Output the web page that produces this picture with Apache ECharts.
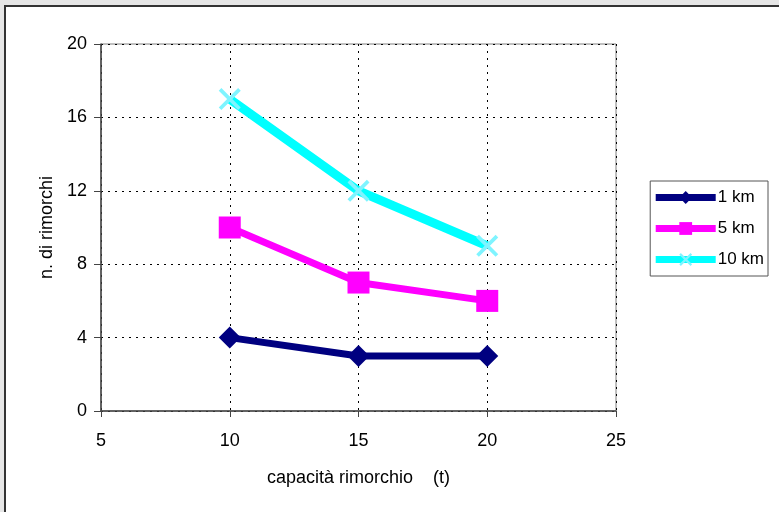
<!DOCTYPE html>
<html>
<head>
<meta charset="utf-8">
<script src="https://cdn.jsdelivr.net/npm/echarts@6/dist/echarts.min.js"></script>
<style>
  html, body { margin: 0; padding: 0; background: #e6e6e6; overflow: hidden; }
  #frame { position: absolute; left: 4px; top: 5px; width: 800px; height: 520px;
           border-left: 2px solid #333; border-top: 2px solid #333; background: #fff; }
  #chart { position: absolute; left: 0; top: 0; width: 779px; height: 512px; }
</style>
</head>
<body>
<div id="frame"></div>
<div id="chart"></div>
<script>
// capacità rimorchio (t)
var capacita = [10, 15, 20];
// n. di rimorchi per distanza
var km1 = [4, 3, 3];
var km5 = [10, 7, 6];
var km10 = [17, 12, 9];
var seriesNames = ['1 km', '5 km', '10 km'];

function pts(ys) {
  return capacita.map(function (x, i) { return [x, ys[i]]; });
}

var xMark = 'path://M0,1.2L1.2,0L10,8.8L8.8,10Z M8.8,0L10,1.2L1.2,10L0,8.8Z';

var myChart = echarts.init(document.getElementById('chart'));
var font = 'Liberation Sans, Arial, sans-serif';

var option = {
  backgroundColor: 'transparent',
  animation: false,
  textStyle: { fontFamily: font },
  grid: {
    left: 101, right: 163, top: 44, bottom: 101,
    show: true, borderColor: '#808080', borderWidth: 1
  },
  legend: {
    orient: 'vertical',
    right: 11, top: 181,
    padding: [8, 4, 8, 2],
    itemGap: 14,
    itemWidth: 60, itemHeight: 16,
    borderColor: '#555', borderWidth: 1,
    lineStyle: { width: 7 },
    textStyle: { fontSize: 17, color: '#000', padding: [0, 0, 0, -3], fontFamily: font },
    data: seriesNames
  },
  xAxis: {
    type: 'value', min: 5, max: 25, interval: 5,
    name: 'capacità rimorchio    (t)',
    nameLocation: 'middle', nameGap: 58,
    nameTextStyle: { fontSize: 18, color: '#000', fontFamily: font },
    axisLine: { show: true, onZero: false, lineStyle: { color: '#444', width: 1.5 } },
    axisTick: { show: true, length: 6, lineStyle: { color: '#444' } },
    axisLabel: { fontSize: 18, color: '#000', margin: 21, fontFamily: font },
    splitLine: { show: true, lineStyle: { color: '#000', type: [2, 5], width: 1 } }
  },
  yAxis: {
    type: 'value', min: 0, max: 20, interval: 4,
    name: 'n. di rimorchi',
    nameLocation: 'middle', nameGap: 45,
    nameTextStyle: { fontSize: 18, color: '#000', fontFamily: font },
    axisLine: { show: true, lineStyle: { color: '#444', width: 1.5 } },
    axisTick: { show: true, length: 7, lineStyle: { color: '#444' } },
    axisLabel: { fontSize: 18, color: '#000', margin: 14, fontFamily: font },
    splitLine: { show: true, lineStyle: { color: '#000', type: [2, 5], width: 1 } }
  },
  series: [
    {
      name: '1 km', type: 'line', data: pts(km1),
      symbol: 'diamond', symbolSize: 22,
      lineStyle: { color: '#000080', width: 7 },
      itemStyle: { color: '#000080' }
    },
    {
      name: '5 km', type: 'line', data: pts(km5),
      symbol: 'rect', symbolSize: 22,
      lineStyle: { color: '#ff00ff', width: 7 },
      itemStyle: { color: '#ff00ff' }
    },
    {
      name: '10 km', type: 'line', data: pts(km10),
      symbol: xMark, symbolSize: 22,
      lineStyle: { color: '#00ffff', width: 9 },
      itemStyle: { color: '#7ff4ff' }
    }
  ]
};

myChart.setOption(option);
</script>
</body>
</html>
